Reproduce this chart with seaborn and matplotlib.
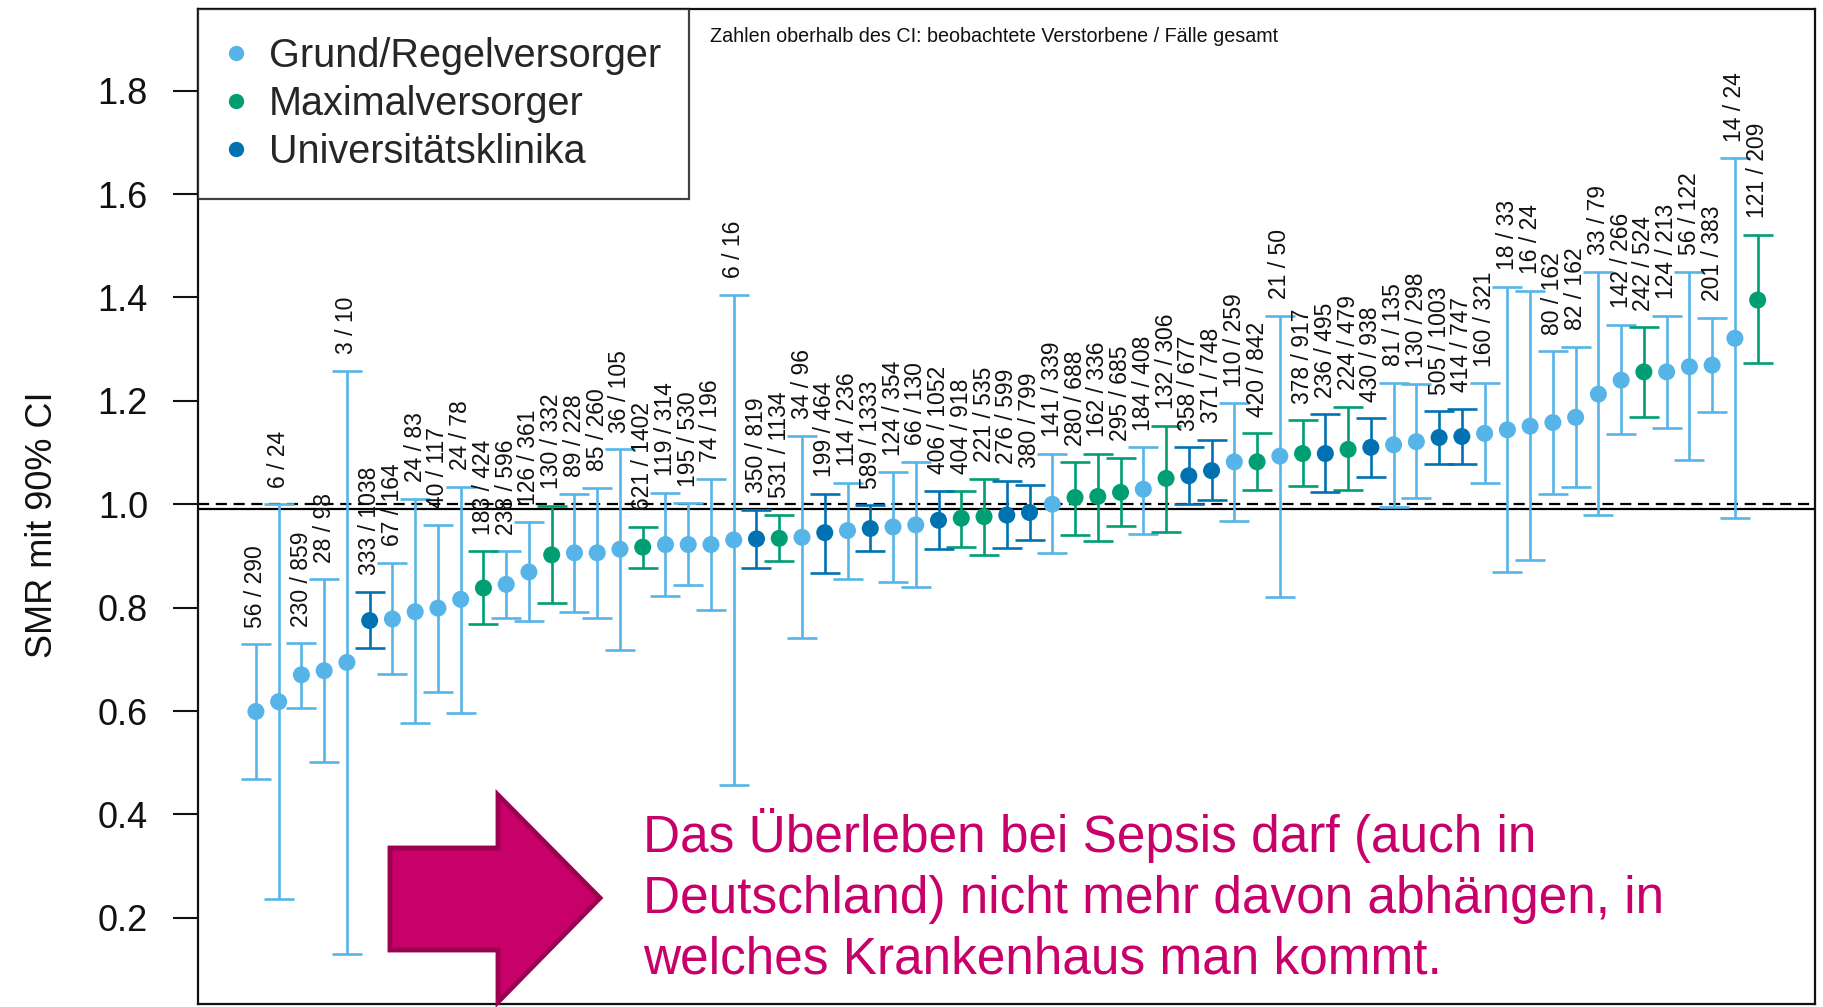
import numpy as np
import pandas as pd
import matplotlib
matplotlib.use("Agg")
import matplotlib.pyplot as plt
import seaborn as sns
from matplotlib.patches import Polygon

# ---------------- data ----------------
labels = ["56 / 290", "6 / 24", "230 / 859", "28 / 98", "3 / 10", "333 / 1038", "67 / 164",
          "24 / 83", "40 / 117", "24 / 78", "183 / 424", "238 / 596", "126 / 361", "130 / 332",
          "89 / 228", "85 / 260", "36 / 105", "621 / 1402", "119 / 314", "195 / 530", "74 / 196",
          "6 / 16", "350 / 819", "531 / 1134", "34 / 96", "199 / 464", "114 / 236", "589 / 1333",
          "124 / 354", "66 / 130", "406 / 1052", "404 / 918", "221 / 535", "276 / 599", "380 / 799",
          "141 / 339", "280 / 688", "162 / 336", "295 / 685", "184 / 408", "132 / 306", "358 / 677",
          "371 / 748", "110 / 259", "420 / 842", "21 / 50", "378 / 917", "236 / 495", "224 / 479",
          "430 / 938", "81 / 135", "130 / 298", "505 / 1003", "414 / 747", "160 / 321", "18 / 33",
          "16 / 24", "80 / 162", "82 / 162", "33 / 79", "142 / 266", "242 / 524", "124 / 213",
          "56 / 122", "201 / 383", "14 / 24", "121 / 209"]

smr = [0.599, 0.618, 0.670, 0.678, 0.694, 0.775, 0.778, 0.792, 0.799, 0.816, 0.838, 0.845,
       0.869, 0.902, 0.906, 0.906, 0.913, 0.917, 0.922, 0.922, 0.922, 0.931, 0.933, 0.934,
       0.936, 0.945, 0.949, 0.953, 0.956, 0.960, 0.969, 0.973, 0.976, 0.979, 0.984, 1.000,
       1.013, 1.015, 1.023, 1.029, 1.050, 1.055, 1.065, 1.082, 1.082, 1.093, 1.098, 1.098,
       1.106, 1.110, 1.115, 1.121, 1.129, 1.131, 1.137, 1.144, 1.151, 1.158, 1.168, 1.213,
       1.240, 1.256, 1.256, 1.266, 1.269, 1.321, 1.395]

ci_low = [0.469, 0.236, 0.606, 0.501, 0.130, 0.721, 0.671, 0.576, 0.637, 0.597, 0.768, 0.780,
          0.774, 0.808, 0.792, 0.780, 0.718, 0.876, 0.822, 0.844, 0.795, 0.457, 0.877, 0.891,
          0.741, 0.867, 0.855, 0.909, 0.850, 0.839, 0.913, 0.918, 0.902, 0.916, 0.931, 0.905,
          0.940, 0.929, 0.957, 0.942, 0.946, 1.000, 1.008, 0.968, 1.027, 0.821, 1.035, 1.023,
          1.027, 1.052, 0.995, 1.013, 1.077, 1.077, 1.042, 0.868, 0.892, 1.020, 1.034, 0.979,
          1.136, 1.169, 1.148, 1.086, 1.178, 0.973, 1.273]

ci_high = [0.729, 1.000, 0.731, 0.855, 1.258, 0.831, 0.886, 1.011, 0.960, 1.033, 0.909, 0.909,
           0.966, 0.997, 1.020, 1.032, 1.106, 0.956, 1.022, 1.002, 1.049, 1.405, 0.989, 0.979,
           1.132, 1.020, 1.042, 0.998, 1.062, 1.082, 1.026, 1.026, 1.049, 1.045, 1.037, 1.097,
           1.081, 1.097, 1.090, 1.110, 1.152, 1.110, 1.124, 1.195, 1.137, 1.365, 1.162, 1.174,
           1.189, 1.166, 1.235, 1.232, 1.180, 1.185, 1.234, 1.420, 1.413, 1.296, 1.305, 1.450,
           1.347, 1.342, 1.364, 1.450, 1.361, 1.669, 1.521]

group_codes = "GGGGGUGGGGMGGMGGGMGGGGUMGUGUGGUMMUUGMMMGMUUGMGMUMUGGUUGGGGGGGMGGGGM"
group_names = {"G": "Grund/Regelversorger", "M": "Maximalversorger", "U": "Universitätsklinika"}
group_order = ["Grund/Regelversorger", "Maximalversorger", "Universitätsklinika"]
group_colors = ["#56B4E9", "#009E73", "#0072B2"]

ref_overall = 0.99
ref_one = 1.0
y_ticks = [0.2, 0.4, 0.6, 0.8, 1.0, 1.2, 1.4, 1.6, 1.8]
note_text = "Zahlen oberhalb des CI: beobachtete Verstorbene / Fälle gesamt"
message = ("Das Überleben bei Sepsis darf (auch in\n"
           "Deutschland) nicht mehr davon abhängen, in\n"
           "welches Krankenhaus man kommt.")

df = pd.DataFrame({
    "pos": np.arange(len(smr)),
    "smr": smr,
    "lo": ci_low,
    "hi": ci_high,
    "label": labels,
    "group": [group_names[c] for c in group_codes],
})
palette = dict(zip(group_order, group_colors))

# ---------------- figure ----------------
sns.set_theme(style="white")
plt.rcParams["font.family"] = ["Liberation Sans", "DejaVu Sans"]

W, H = 1824, 1007
fig = plt.figure(figsize=(W / 100, H / 100), dpi=100)
ax = fig.add_axes([198 / W, 3 / H, (1815 - 198) / W, 1 - 12 / H])

# error bars
for g in group_order:
    sub = df[df["group"] == g]
    ax.errorbar(sub["pos"], sub["smr"],
                yerr=[sub["smr"] - sub["lo"], sub["hi"] - sub["smr"]],
                fmt="none", ecolor=palette[g], elinewidth=1.9, capsize=10.5,
                capthick=1.9, zorder=2)

sns.scatterplot(data=df, x="pos", y="smr", hue="group", hue_order=group_order,
                palette=palette, s=150, edgecolor="none", linewidth=0, ax=ax,
                zorder=3, legend=True)

ax.axhline(ref_overall, color="black", lw=1.6, zorder=1)
ax.axhline(ref_one, color="black", lw=1.6, ls=(0, (5, 3)), zorder=1)

for _, r in df.iterrows():
    ax.annotate(r["label"], xy=(r["pos"], r["hi"]), xytext=(0, 12),
                textcoords="offset points", rotation=90, ha="center", va="bottom",
                fontsize=16.5, color="#111111", zorder=4)

ax.set_xlim(-2.545, len(smr) - 1 + 2.52)
ax.set_ylim(0.0332, 1.958)
ax.set_yticks(y_ticks)
ax.set_yticklabels([f"{t:.1f}" for t in y_ticks])
ax.set_xticks([])
ax.set_xlabel("")
ax.set_ylabel("SMR mit 90% CI", fontsize=26, color="#111111")
ax.yaxis.set_label_coords(-0.0853, 0.482)
ax.tick_params(axis="y", left=True, length=18, width=1.5, pad=18, labelsize=26,
               colors="#111111")
for s in ["left", "right", "top", "bottom"]:
    ax.spines[s].set_color("#111111")
    ax.spines[s].set_linewidth(1.6)

handles, labs = ax.get_legend_handles_labels()
leg = ax.legend(handles=handles, labels=labs, loc="upper left", borderaxespad=0,
                fontsize=28.5, frameon=True, fancybox=False, edgecolor="#111111",
                handlelength=0.5, handletextpad=0.6, borderpad=0.7, labelspacing=0.26,
                markerscale=0.9)
leg.get_frame().set_linewidth(1.6)
leg.set_zorder(5)

fig.text(710 / W, 1 - 36 / H, note_text, fontsize=14.2, color="#111111",
         ha="left", va="center")

# arrow (slide decoration)
arrow_px = [(390, 848), (498, 848), (498, 795), (600, 898), (498, 1002), (498, 950), (390, 950)]
arrow = Polygon([(x / W, 1 - y / H) for x, y in arrow_px], closed=True,
                transform=fig.transFigure, facecolor="#C8006A", edgecolor="#9C0050",
                linewidth=3.5, joinstyle="miter")
fig.patches.append(arrow)

fig.text(643 / W, 1 - 896 / H, message, fontsize=37, color="#C8006A",
         ha="left", va="center", linespacing=1.31)

fig.savefig("out.png", dpi=100)
